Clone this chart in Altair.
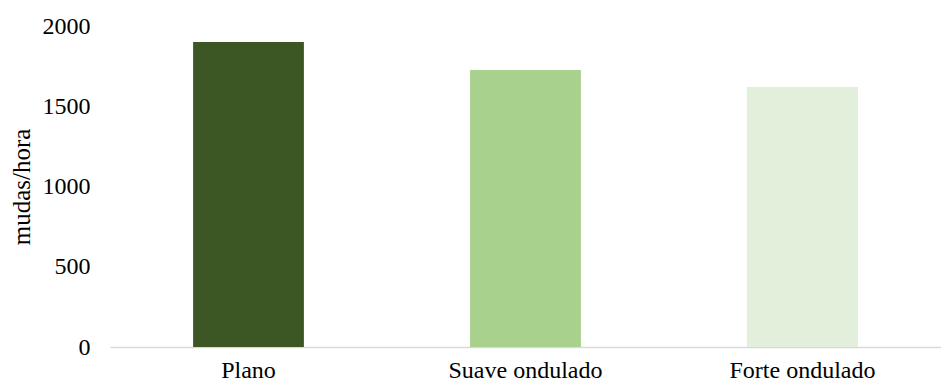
import altair as alt
import pandas as pd

categories = ["Plano", "Suave ondulado", "Forte ondulado"]
values = [1900, 1726, 1620]
colors = ["#3C5724", "#A9D18E", "#E2EFDA"]

df = pd.DataFrame({"cat": categories, "val": values})

FONT = "Times New Roman, Liberation Serif, serif"

chart = alt.Chart(df).mark_bar().encode(
    x=alt.X("cat:N", sort=categories, title=None,
            scale=alt.Scale(paddingInner=0.6, paddingOuter=0.3),
            axis=alt.Axis(labelAngle=0, ticks=False, domainColor="#D9D9D9", domainWidth=1.5,
                          labelFont=FONT, labelFontSize=24, labelColor="#000000",
                          labelPadding=11)),
    y=alt.Y("val:Q", title="mudas/hora",
            scale=alt.Scale(domain=[0, 2000], nice=False),
            axis=alt.Axis(values=[0, 500, 1000, 1500, 2000], format="d", grid=False, domain=False, ticks=False,
                          labelFont=FONT, labelFontSize=24, labelColor="#000000", labelPadding=20,
                          titleFont=FONT, titleFontSize=25, titleFontWeight="normal",
                          titleColor="#000000", titlePadding=8)),
    color=alt.Color("cat:N", sort=categories, legend=None,
                    scale=alt.Scale(domain=categories, range=colors)),
).properties(
    width=831, height=321,
    autosize=alt.AutoSizeParams(type="none"),
    padding={"left": 110, "top": 26, "right": 0, "bottom": 38},
).configure_view(stroke=None)

chart.save("out.html", embed_options={"renderer": "svg", "actions": False})
